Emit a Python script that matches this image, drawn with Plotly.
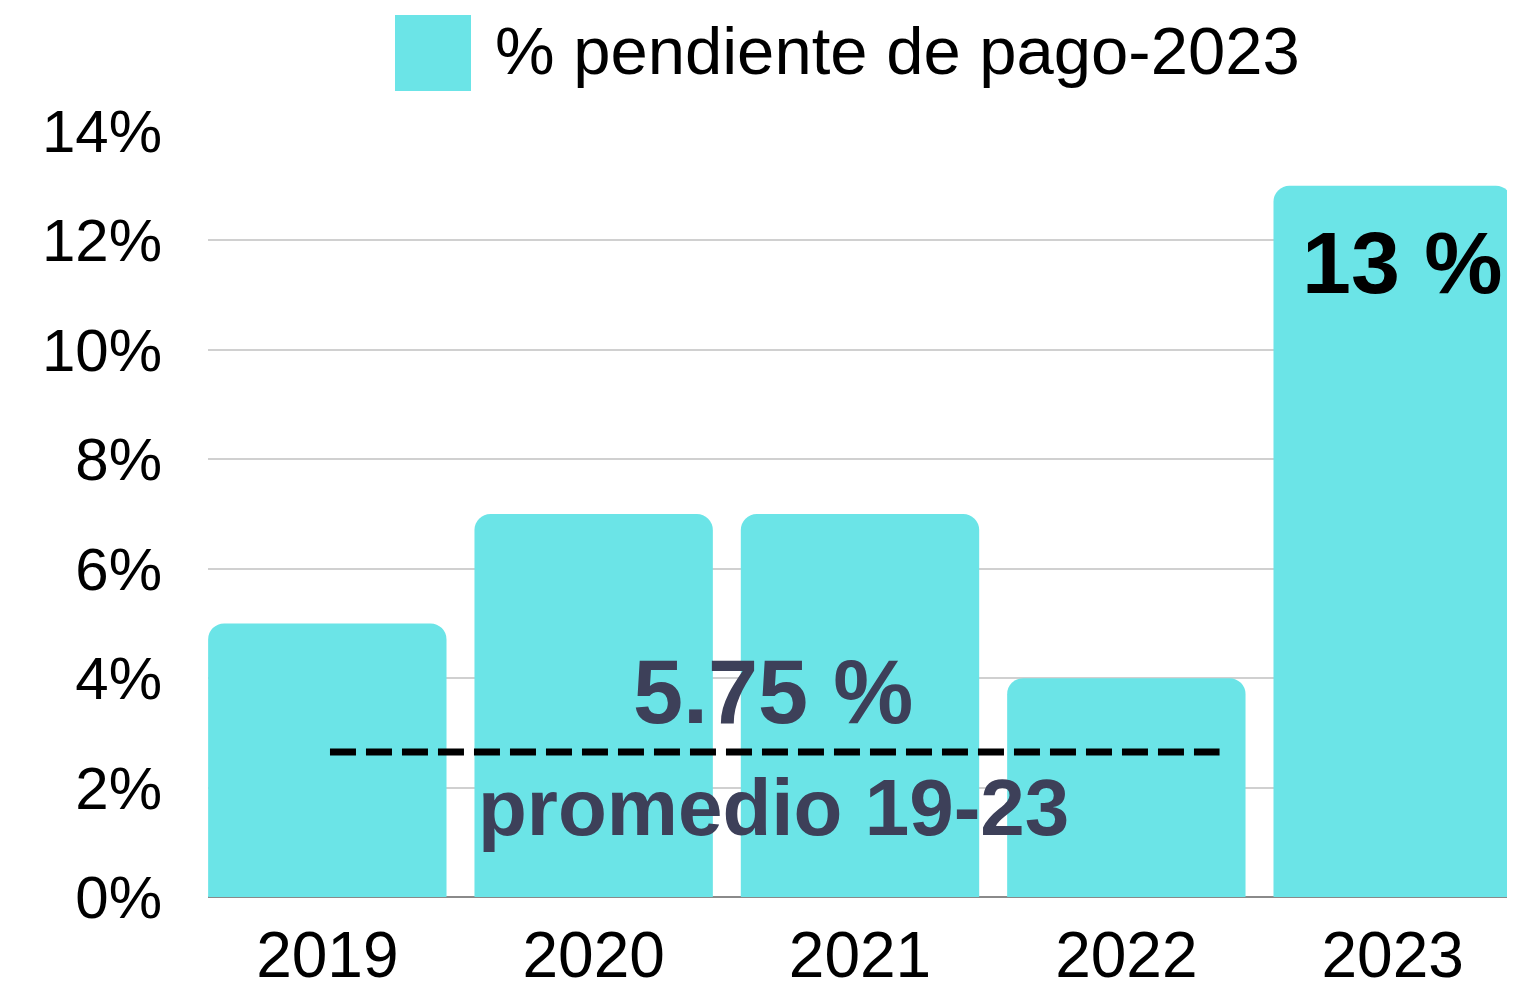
import plotly.graph_objects as go

years = ["2019", "2020", "2021", "2022", "2023"]
pct_pending = [5, 7, 7, 4, 13]
series_name = "% pendiente de pago-2023"
y_ticks = [0, 2, 4, 6, 8, 10, 12, 14]
y_tick_labels = [f"{v}%" for v in y_ticks]
avg_value = 2.65
avg_label = "5.75 %"
avg_caption = "promedio 19-23"
last_label = "13 %"

BAR = "#6be4e7"
DARK = "#3d4059"
FONT = "Liberation Sans"

# page body adds an 8px offset, so the figure is laid out 8px smaller
W, H = 1507, 975
L, R, T, B = 200, 3, 123, 86
PW, PH = W - L - R, H - T - B


def px(xp):
    return (xp - L) / PW


def py(yp):
    return (H - B - yp) / PH


fig = go.Figure()
fig.add_trace(go.Bar(
    x=years, y=pct_pending, name=series_name,
    marker=dict(color=BAR, cornerradius=16, line=dict(width=0)),
    showlegend=False,
))

# average dashed line
fig.add_shape(type="line", xref="x", yref="y",
              x0=0.01, x1=3.35, y0=avg_value, y1=avg_value,
              line=dict(color="black", width=7, dash="26px,10px"), layer="above")

fig.add_annotation(x=1.675, y=3.75, xref="x", yref="y", text=f"<b>{avg_label}</b>",
                   showarrow=False, font=dict(family=FONT, size=90, color=DARK))
fig.add_annotation(x=1.675, y=1.63, xref="x", yref="y", text=f"<b>{avg_caption}</b>",
                   showarrow=False, font=dict(family=FONT, size=80, color=DARK))
fig.add_annotation(x=4, y=11.6, xref="x", yref="y", xshift=10, text=f"<b>{last_label}</b>",
                   showarrow=False, font=dict(family=FONT, size=88, color="black"))

# manual legend
fig.add_shape(type="rect", xref="paper", yref="paper",
              x0=px(387), x1=px(463), y0=py(83), y1=py(7),
              fillcolor=BAR, line=dict(width=0))
fig.add_annotation(xref="paper", yref="paper", x=px(485), y=py(42),
                   xanchor="left", yanchor="middle", text=series_name, showarrow=False,
                   font=dict(family=FONT, size=67, color="black"))

fig.update_layout(
    width=W, height=H,
    margin=dict(l=L, r=R, t=T, b=B),
    paper_bgcolor="white", plot_bgcolor="white",
    bargap=0.105,
    font=dict(family=FONT, color="black"),
)
fig.update_yaxes(range=[0, 14], tickvals=y_ticks, ticktext=y_tick_labels,
                 showgrid=True, gridcolor="#d0d0d0", gridwidth=2,
                 zeroline=True, zerolinecolor="#8a8a8a", zerolinewidth=2,
                 tickfont=dict(family=FONT, size=60), ticklabelstandoff=45,
                 showline=False, ticks="", automargin=False)
fig.update_xaxes(type="category", range=[-0.448, 4.448],
                 tickfont=dict(family=FONT, size=64), ticklabelstandoff=15,
                 showline=False, ticks="", showgrid=False, automargin=False)

fig.write_html("out.html")
